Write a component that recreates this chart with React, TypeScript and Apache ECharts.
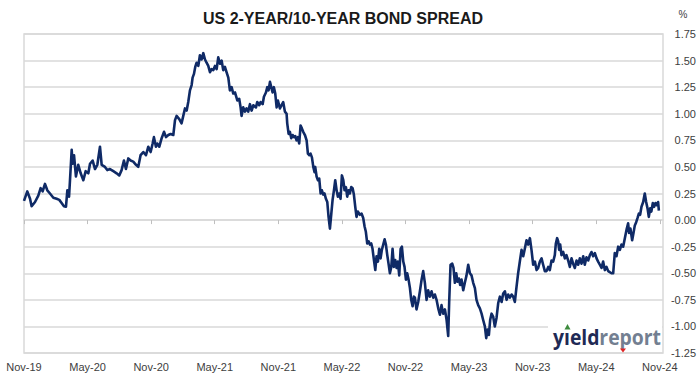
import React, { useEffect, useRef } from "react";
import * as echarts from "echarts";

const xLabels = ["Nov-19", "May-20", "Nov-20", "May-21", "Nov-21", "May-22", "Nov-22", "May-23", "Nov-23", "May-24", "Nov-24"];

// months since Nov-2019
const months = [
  0.0, 0.31, 0.57, 0.72, 1.04, 1.35, 1.57, 1.76, 1.98, 2.2, 2.45, 2.77, 3.08, 3.33, 3.55, 3.77, 3.96, 4.09, 4.25, 4.34, 4.5, 4.59, 4.72, 4.9, 5.12, 5.35, 5.6, 5.82, 6.07, 6.23, 6.48, 6.7, 6.92, 7.17, 7.33, 7.64, 7.86, 8.11, 8.43, 8.74, 8.99, 9.21, 9.43, 9.62, 9.84, 10.06, 10.31, 10.57, 10.78, 11.0, 11.26, 11.51, 11.73, 11.95, 12.14,
  12.26, 12.45, 12.58, 12.77, 12.99, 13.21, 13.4, 13.62, 13.84, 14.09, 14.25, 14.4, 14.65, 14.87, 15.03, 15.19, 15.35, 15.5, 15.66, 15.82, 15.91, 16.04, 16.16, 16.29, 16.45, 16.6, 16.76, 16.92, 17.08, 17.23, 17.39, 17.55, 17.7, 17.86, 18.02, 18.18, 18.33, 18.49, 18.65, 18.8, 18.96, 19.12, 19.28, 19.43, 19.59, 19.75, 19.91, 20.13, 20.31, 20.44, 20.53, 20.69, 20.85, 21.0, 21.16, 21.32, 21.48, 21.64, 21.89, 22.01, 22.2, 22.33, 22.52, 22.64, 22.83, 22.96, 23.08, 23.21, 23.33, 23.46, 23.58, 23.71, 23.84, 23.96, 24.15,
  24.46, 24.62, 24.78, 24.84, 24.97, 25.09, 25.22, 25.35, 25.47, 25.6, 25.72, 25.85, 25.97, 26.1, 26.23, 26.35, 26.51, 26.67, 26.79, 26.92, 27.04, 27.17, 27.3, 27.42, 27.48, 27.61, 27.74, 27.86, 27.99, 28.11, 28.24, 28.36, 28.49, 28.62, 28.74, 28.87, 29.0, 29.12, 29.25, 29.37, 29.5, 29.62, 29.75, 29.87, 30.0, 30.13, 30.25, 30.38, 30.5, 30.63, 30.75, 30.88, 31.01, 31.13, 31.26, 31.38, 31.51, 31.7, 31.86, 32.01, 32.14, 32.26, 32.39, 32.52, 32.64, 32.77, 32.89, 33.02, 33.15, 33.27, 33.4, 33.52, 33.65, 33.77, 33.9, 34.03, 34.15, 34.28, 34.4, 34.53, 34.66, 34.78, 34.91, 35.03, 35.16, 35.28, 35.41, 35.54, 35.66, 35.79, 35.91, 36.04, 36.16, 36.29, 36.42, 36.54, 36.67, 36.79, 36.89,
  37.04, 37.2, 37.36, 37.52, 37.67, 37.83, 37.99, 38.14, 38.3, 38.46, 38.62, 38.77, 38.93, 39.09, 39.25, 39.4, 39.56, 39.72, 39.88, 40.03, 40.12, 40.25, 40.41, 40.53, 40.66, 40.79, 40.91, 41.04, 41.16, 41.29, 41.45, 41.6, 41.76, 41.92, 42.08, 42.23, 42.39, 42.55, 42.7, 42.86, 43.02, 43.18, 43.33, 43.49, 43.62, 43.74, 43.87, 43.99, 44.12, 44.28, 44.43, 44.59, 44.75, 44.91, 45.07, 45.22, 45.38, 45.54, 45.69, 45.85, 46.01, 46.16, 46.32, 46.48, 46.63, 46.79, 46.95, 47.11, 47.26, 47.42, 47.58, 47.74, 47.89, 48.05, 48.21, 48.37, 48.52, 48.68, 48.84, 48.99, 49.15,
  49.31, 49.47, 49.62, 49.78, 49.94, 50.09, 50.19, 50.31, 50.41, 50.5, 50.6, 50.72, 50.88, 51.04, 51.19, 51.35, 51.51, 51.67, 51.82, 51.98, 52.14, 52.3, 52.45, 52.61, 52.77, 52.92, 53.08, 53.24, 53.4, 53.55, 53.71, 53.87, 54.03, 54.18, 54.34, 54.5, 54.65, 54.81, 54.97, 55.13, 55.28, 55.44, 55.6, 55.75, 55.91, 56.07, 56.23, 56.38, 56.54, 56.7, 56.86, 57.01, 57.1, 57.23, 57.39, 57.52, 57.64, 57.77, 57.9, 58.02, 58.14, 58.27, 58.43, 58.58, 58.71, 58.84, 58.96, 59.09, 59.2, 59.34, 59.46, 59.59, 59.72, 59.84, 59.91,
];

// 10-year minus 2-year yield, %
const spread = [
  0.18, 0.27, 0.2, 0.13, 0.17, 0.23, 0.3, 0.27, 0.34, 0.28, 0.25, 0.21, 0.2, 0.19, 0.16, 0.13, 0.125, 0.28, 0.22, 0.375, 0.66, 0.53, 0.61, 0.41, 0.52, 0.44, 0.375, 0.46, 0.44, 0.53, 0.56, 0.48, 0.52, 0.69, 0.52, 0.5, 0.47, 0.48, 0.46, 0.44, 0.42, 0.47, 0.56, 0.48, 0.58, 0.56, 0.55, 0.52, 0.5, 0.61, 0.64, 0.61, 0.69, 0.64, 0.72,
  0.78, 0.69, 0.72, 0.69, 0.77, 0.83, 0.78, 0.8, 0.81, 0.8, 0.94, 0.98, 0.95, 0.91, 0.98, 1.05, 1.03, 1.11, 1.22, 1.27, 1.34, 1.375, 1.44, 1.48, 1.45, 1.55, 1.51, 1.57, 1.51, 1.48, 1.45, 1.39, 1.42, 1.41, 1.45, 1.42, 1.53, 1.47, 1.5, 1.41, 1.44, 1.39, 1.34, 1.22, 1.25, 1.19, 1.2, 1.125, 1.14, 1.06, 0.98, 1.06, 1.02, 1.05, 1.02, 1.09, 1.03, 1.08, 1.06, 1.11, 1.08, 1.11, 1.09, 1.16, 1.2, 1.25, 1.22, 1.3, 1.25, 1.2, 1.25, 1.19, 1.06, 1.125, 1.05,
  1.11, 1.02, 1.0, 0.91, 0.81, 0.83, 0.77, 0.8, 0.78, 0.79, 0.75, 0.78, 0.72, 0.89, 0.86, 0.83, 0.8, 0.75, 0.625, 0.61, 0.625, 0.59, 0.5, 0.45, 0.5, 0.41, 0.375, 0.39, 0.25, 0.28, 0.24, 0.25, 0.2, 0.17, 0.03, -0.08, 0.06, 0.19, 0.28, 0.375, 0.28, 0.22, 0.25, 0.2, 0.42, 0.375, 0.28, 0.31, 0.22, 0.28, 0.25, 0.31, 0.3, 0.24, 0.125, 0.03, 0.08, 0.05, 0.06, 0.02, -0.06, -0.11, -0.22, -0.2, -0.23, -0.22, -0.27, -0.375, -0.47, -0.34, -0.39, -0.27, -0.36, -0.28, -0.23, -0.18, -0.23, -0.33, -0.41, -0.5, -0.44, -0.27, -0.44, -0.375, -0.45, -0.39, -0.52, -0.27, -0.25, -0.39, -0.44, -0.56, -0.5, -0.56, -0.64, -0.75, -0.81, -0.72, -0.73,
  -0.84, -0.77, -0.67, -0.56, -0.48, -0.59, -0.75, -0.66, -0.72, -0.67, -0.73, -0.7, -0.75, -0.83, -0.89, -0.8, -0.88, -0.84, -0.94, -1.09, -0.78, -0.42, -0.41, -0.45, -0.59, -0.5, -0.58, -0.55, -0.61, -0.56, -0.66, -0.59, -0.52, -0.42, -0.5, -0.52, -0.59, -0.64, -0.75, -0.8, -0.83, -0.88, -0.94, -1.0, -1.11, -1.03, -1.08, -0.94, -0.88, -0.91, -1.0, -0.92, -0.78, -0.72, -0.77, -0.69, -0.67, -0.75, -0.7, -0.73, -0.7, -0.72, -0.77, -0.625, -0.5, -0.39, -0.28, -0.34, -0.27, -0.19, -0.23, -0.17, -0.28, -0.42, -0.39, -0.47, -0.45, -0.39, -0.36, -0.42, -0.48,
  -0.48, -0.44, -0.47, -0.38, -0.39, -0.33, -0.22, -0.17, -0.2, -0.28, -0.23, -0.33, -0.3, -0.36, -0.33, -0.38, -0.44, -0.36, -0.41, -0.45, -0.38, -0.42, -0.36, -0.41, -0.34, -0.42, -0.35, -0.38, -0.33, -0.3, -0.34, -0.31, -0.36, -0.39, -0.42, -0.45, -0.39, -0.47, -0.44, -0.48, -0.49, -0.5, -0.5, -0.31, -0.34, -0.25, -0.28, -0.23, -0.25, -0.17, -0.09, -0.03, -0.12, -0.08, -0.19, -0.12, -0.05, -0.02, 0.02, 0.06, 0.05, 0.125, 0.17, 0.25, 0.17, 0.11, 0.03, 0.11, 0.08, 0.16, 0.125, 0.16, 0.14, 0.17, 0.09,
];

const yTicks = { min: -1.25, max: 1.75, step: 0.25 };

export default function App() {
  const ref = useRef<HTMLDivElement>(null);

  useEffect(() => {
    if (!ref.current) return;
    const chart = echarts.init(ref.current, undefined, { renderer: "svg" });
    const labelFont = "Liberation Sans";
    const data = months.map((m, i) => [m, spread[i]]);
    chart.setOption({
      animation: false,
      backgroundColor: "#ffffff",
      grid: {
        left: 24,
        right: 36,
        top: 34,
        bottom: 32,
        show: true,
        borderColor: "#d9d9d9",
        borderWidth: 1.5,
        backgroundColor: "transparent",
      },
      xAxis: {
        type: "value",
        min: 0,
        max: 60.3,
        interval: 6,
        axisLine: { show: true, lineStyle: { color: "#d9d9d9", width: 1.5 } },
        axisTick: { show: true, length: 4, lineStyle: { color: "#bfbfbf" } },
        splitLine: { show: false },
        axisLabel: {
          margin: 8,
          fontSize: 11,
          fontFamily: labelFont,
          color: "#404040",
          showMaxLabel: false,
          formatter: (v: number) => {
            const k = v / 6;
            if (Math.abs(k - Math.round(k)) > 0.01) return "";
            return xLabels[Math.round(k)] ?? "";
          },
        },
      },
      yAxis: {
        type: "value",
        position: "right",
        min: yTicks.min,
        max: yTicks.max,
        interval: yTicks.step,
        axisLine: { show: false },
        axisTick: { show: false },
        splitLine: { lineStyle: { color: "#d9d9d9", width: 1.5 } },
        axisLabel: {
          align: "right",
          margin: 33,
          fontSize: 11,
          fontFamily: labelFont,
          color: "#404040",
          formatter: (v: number) => v.toFixed(2),
        },
      },
      series: [
        {
          type: "line",
          data,
          showSymbol: false,
          symbol: "none",
          lineStyle: { color: "#0f2a66", width: 2.6, join: "round" },
          z: 3,
        },
      ],
      graphic: [
        {
          type: "text",
          x: 343,
          y: 18,
          style: {
            text: "US 2-YEAR/10-YEAR BOND SPREAD",
            font: 'bold 16px "Liberation Sans Narrow", "Liberation Sans", sans-serif',
            fill: "#1a1a1a",
            align: "center",
            verticalAlign: "middle",
          },
        },
        {
          type: "text",
          x: 683,
          y: 14,
          style: {
            text: "%",
            font: '10px "Liberation Sans", sans-serif',
            fill: "#404040",
            align: "center",
            verticalAlign: "middle",
          },
        },
        {
          type: "rect",
          z: 10,
          shape: { x: 548, y: 321, width: 114, height: 30 },
          style: { fill: "#ffffff" },
        },
        {
          type: "text",
          z: 11,
          x: 553,
          y: 337,
          scaleX: 0.88,
          style: {
            text: "y\u0131eld",
            font: 'bold 22px "Open Sans", sans-serif',
            fill: "#1f2a55",
            align: "left",
            verticalAlign: "middle",
          },
        },
        {
          type: "text",
          z: 11,
          x: 661,
          y: 337,
          scaleX: 0.88,
          style: {
            text: "report",
            font: 'bold 22px "Open Sans", sans-serif',
            fill: "#737f91",
            align: "right",
            verticalAlign: "middle",
          },
        },
        {
          type: "polygon",
          z: 12,
          shape: { points: [[564.5, 329.5], [570.5, 329.5], [567.5, 324]] },
          style: { fill: "#3d8b3d" },
        },
        {
          type: "polygon",
          z: 12,
          shape: { points: [[620, 348.5], [626, 348.5], [623, 352.5]] },
          style: { fill: "#e02424" },
        },
      ],
    });
    return () => chart.dispose();
  }, []);

  return (
    <div
      ref={ref}
      style={{ position: "fixed", left: 0, top: 0, width: 699, height: 385, background: "#fff" }}
    />
  );
}
